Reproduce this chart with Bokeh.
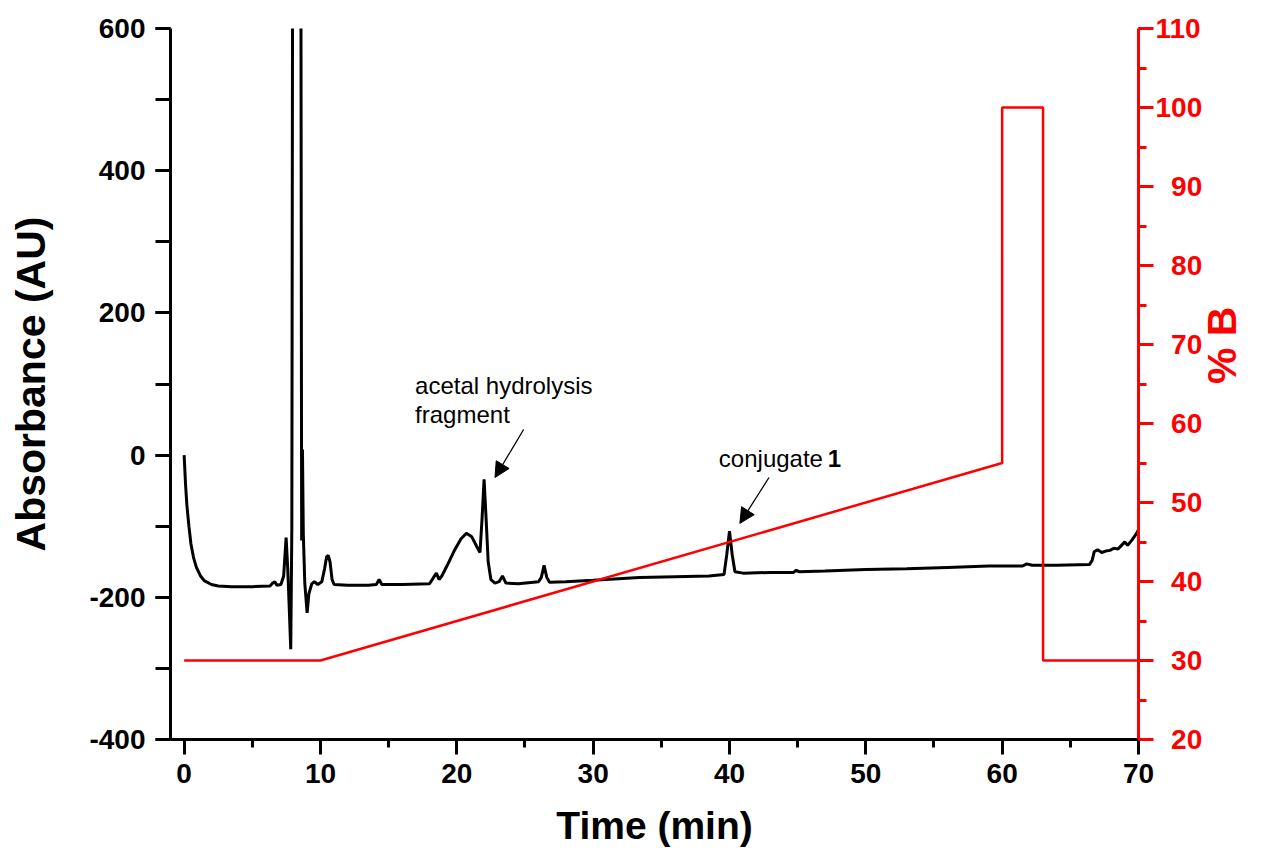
import math
from bokeh.plotting import figure
from bokeh.models import (Range1d, LinearAxis, SingleIntervalTicker, Label, Arrow,
                          NormalHead, CustomJSTickFormatter)
from bokeh.embed import file_html
from bokeh.resources import INLINE

# ---- chromatogram (absorbance trace) ----
time_min = [0.0, 0.1, 0.2, 0.35, 0.5, 0.7, 0.9, 1.2, 1.5, 2.0, 2.5, 3.5, 5.0, 6.3,
            6.5, 6.65, 6.8, 7.1, 7.3, 7.48, 7.6, 7.7, 7.82, 7.9, 7.97, 8.55, 8.62,
            8.68, 8.74, 8.85, 9.02, 9.15, 9.36, 9.55, 9.8, 10.1, 10.3, 10.45, 10.57,
            10.7, 10.85, 11.0, 12.0, 13.5, 14.1, 14.3, 14.5, 16.0, 18.0, 18.3, 18.5,
            18.7, 18.9, 19.3, 19.8, 20.3, 20.7, 21.1, 21.5, 21.7, 21.85, 22.0, 22.15,
            22.3, 22.5, 22.8, 23.1, 23.35, 23.6, 24.5, 26.0, 26.2, 26.4, 26.6, 26.8,
            28.0, 30.0, 33.4, 36.0, 38.5, 39.6, 39.8, 40.0, 40.2, 40.4, 41.0, 43.0,
            44.7, 44.9, 45.1, 47.0, 50.0, 53.0, 56.0, 59.0, 61.5, 61.8, 62.2, 64.0,
            66.4, 66.6, 66.75, 67.0, 67.3, 67.6, 67.9, 68.2, 68.5, 68.7, 69.0, 69.2,
            69.5, 69.8, 70.0]
absorbance = [0, -40, -70, -100, -125, -145, -158, -170, -177, -182, -184, -185, -185, -184,
              -180, -178, -183, -182, -170, -116, -160, -210, -273, -100, 900, 900, -120,
              8, -110, -180, -222, -195, -181, -178, -182, -178, -160, -143, -141,
              -150, -175, -182, -183, -183, -182, -175, -182, -182, -181, -172, -166,
              -175, -170, -155, -135, -118, -110, -115, -130, -137, -90, -34, -90,
              -150, -175, -180, -178, -170, -180, -181, -178, -172, -155, -172, -179,
              -178, -176, -172, -171, -170, -168, -140, -107, -140, -164, -166, -165,
              -165, -162, -164, -163, -161, -160, -158, -156, -156, -153, -155, -155,
              -154, -148, -136, -133, -137, -135, -134, -131, -132, -128, -122, -127,
              -120, -112, -105]

# ---- solvent gradient (% B) ----
grad_time = [0, 10, 60, 60, 63, 63, 70]
grad_pct = [30, 30, 55, 100, 100, 30, 30]

# ---- annotations ----
ann_fragment_lines = ["acetal hydrolysis", "fragment"]
ann_conjugate = "conjugate"
ann_conjugate_num = "1"

FONT = "Liberation Sans"
RED = "#ff0000"

p = figure(width=1272, height=856, x_range=Range1d(-1, 70), y_range=Range1d(-400, 600),
           output_backend="svg", toolbar_location=None,
           min_border_left=170, min_border_right=134, min_border_top=28, min_border_bottom=117)
p.extra_y_ranges = {"pct": Range1d(20, 110)}
p.outline_line_color = None
p.xgrid.visible = False
p.ygrid.visible = False
p.background_fill_color = "white"
p.border_fill_color = "white"

p.line(time_min, absorbance, line_color="black", line_width=3)
p.line(grad_time, grad_pct, line_color=RED, line_width=2.5, y_range_name="pct")

# axes
xa = p.xaxis[0]
xa.ticker = SingleIntervalTicker(interval=10, num_minor_ticks=2)
xa.axis_label = "Time (min)"
xa.formatter = CustomJSTickFormatter(code="return tick.toFixed(0);")
ya = p.yaxis[0]
ya.ticker = SingleIntervalTicker(interval=200, num_minor_ticks=2)
ya.axis_label = "Absorbance (AU)"
ya.formatter = CustomJSTickFormatter(code="return tick.toFixed(0);")

ra = LinearAxis(y_range_name="pct", axis_label="% B",
                ticker=SingleIntervalTicker(interval=10, num_minor_ticks=2))
ra.formatter = CustomJSTickFormatter(code="return (tick < 100 ? '\u2007' : '') + tick.toFixed(0);")
p.add_layout(ra, "right")

for ax, col in ((xa, "black"), (ya, "black"), (ra, RED)):
    ax.axis_line_color = col
    ax.axis_line_width = 3
    ax.major_tick_line_color = col
    ax.minor_tick_line_color = col
    ax.major_tick_line_width = 3
    ax.minor_tick_line_width = 3
    ax.major_tick_in = 0
    ax.major_tick_out = 15
    ax.minor_tick_in = 0
    ax.major_label_text_color = col
    ax.major_label_text_font = FONT
    ax.major_label_text_font_style = "bold"
    ax.major_label_text_font_size = "28px"
    ax.axis_label_text_color = col
    ax.axis_label_text_font = FONT
    ax.axis_label_text_font_style = "bold"
    ax.axis_label_text_font_size = "41px"

xa.axis_label_text_font_size = "39px"
xa.minor_tick_out = 8
xa.major_label_standoff = 9
xa.axis_label_standoff = 18
ya.minor_tick_out = 15
ya.major_label_standoff = 10
ya.axis_label_standoff = 32
ra.minor_tick_out = 8
ra.major_label_standoff = 2
ra.axis_label_standoff = 17
ra.axis_label_orientation = -1.5 * math.pi

# text annotations
p.add_layout(Label(x=16.94, y=97.9, text=ann_fragment_lines[0], text_font=FONT,
                   text_font_size="24px", text_baseline="middle", text_color="black"))
p.add_layout(Label(x=16.94, y=57.1, text=ann_fragment_lines[1], text_font=FONT,
                   text_font_size="24px", text_baseline="middle", text_color="black"))
p.add_layout(Label(x=39.22, y=-4.8, text=ann_conjugate, text_font=FONT,
                   text_font_size="24px", text_baseline="middle", text_color="black"))
p.add_layout(Label(x=47.2, y=-4.8, text=ann_conjugate_num, text_font=FONT,
                   text_font_style="bold", text_font_size="24px", text_baseline="middle",
                   text_color="black"))

# arrows
p.add_layout(Arrow(x_start=24.9, y_start=36, x_end=22.8, y_end=-31.5, line_width=1.3,
                   line_color="black",
                   end=NormalHead(size=15, fill_color="black", line_color="black", line_width=1)))
p.add_layout(Arrow(x_start=42.9, y_start=-31.5, x_end=40.76, y_end=-96, line_width=1.3,
                   line_color="black",
                   end=NormalHead(size=15, fill_color="black", line_color="black", line_width=1)))

open("out.html", "w").write(file_html(p, INLINE))
